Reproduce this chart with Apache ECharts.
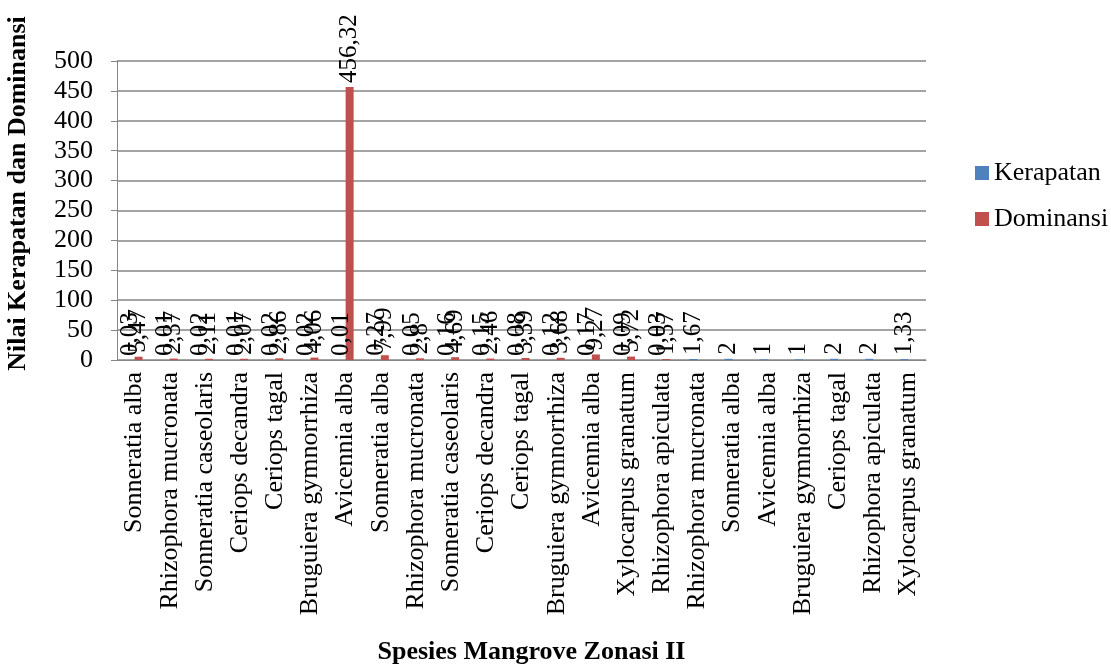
<!DOCTYPE html>
<html lang="en">
	<head>
		<meta charset="UTF-8">
		<title>Spesies Mangrove Zonasi II</title>
	</head>

	<style>
		html, body {
			margin: 0;
			padding: 0;
			background: #fff;
		}
		.chart-box {
			width: 1111px;
			height: 665px;
		}
	</style>

	<body>
		<div id='echarts' class="chart-box"></div>
	</body>

	<script type="text/javascript" src="https://cdn.jsdelivr.net/npm/echarts@6.0.0/dist/echarts.min.js"></script>
	<script>
		var categories = ['Sonneratia alba', 'Rhizophora mucronata', 'Sonneratia caseolaris', 'Ceriops decandra',
			'Ceriops tagal', 'Bruguiera gymnorrhiza', 'Avicennia alba',
			'Sonneratia alba', 'Rhizophora mucronata', 'Sonneratia caseolaris', 'Ceriops decandra',
			'Ceriops tagal', 'Bruguiera gymnorrhiza', 'Avicennia alba', 'Xylocarpus granatum', 'Rhizophora apiculata',
			'Rhizophora mucronata', 'Sonneratia alba', 'Avicennia alba', 'Bruguiera gymnorrhiza',
			'Ceriops tagal', 'Rhizophora apiculata', 'Xylocarpus granatum'
		]
		var kerapatan = [0.03, 0.01, 0.02, 0.01, 0.02, 0.02, 0.01,
			0.27, 0.05, 0.16, 0.15, 0.08, 0.12, 0.17, 0.09, 0.03,
			1.67, 2, 1, 1, 2, 2, 1.33
		]
		var dominansi = [5.47, 2.37, 2.11, 2.07, 2.86, 4.06, 456.32,
			7.99, 2.8, 4.69, 2.46, 3.39, 3.68, 9.27, 5.72, 1.57,
			null, null, null, null, null, null, null
		]
		var yTicks = [0, 50, 100, 150, 200, 250, 300, 350, 400, 450, 500]

		var fontFamily = "'Times New Roman', 'Liberation Serif', serif"
		var gridColor = '#868686'

		// angka pakai koma desimal
		function fmt(p) {
			if (p.value === null || p.value === undefined) return ''
			return String(p.value).replace('.', ',')
		}

		function barLabel() {
			return {
				show: true,
				position: 'top',
				rotate: 90,
				align: 'left',
				verticalAlign: 'middle',
				distance: 4,
				color: '#000',
				fontFamily: fontFamily,
				fontSize: 25,
				formatter: fmt
			}
		}

		var myChart = echarts.init(document.getElementById('echarts'))
		var option = {
			animation: false,
			textStyle: { fontFamily: fontFamily },
			legend: {
				orient: 'vertical',
				left: 970,
				top: 155,
				itemWidth: 14,
				itemHeight: 14,
				itemGap: 20,
				icon: 'rect',
				textStyle: {
					color: '#000',
					fontFamily: fontFamily,
					fontSize: 26
				},
				data: ['Kerapatan', 'Dominansi']
			},
			grid: {
				left: 117,
				right: 185,
				top: 61,
				bottom: 305,
				outerBoundsMode: 'none'
			},
			xAxis: {
				type: 'category',
				data: categories,
				name: 'Spesies Mangrove Zonasi II',
				nameLocation: 'middle',
				nameGap: 279,
				nameTextStyle: {
					color: '#000',
					fontFamily: fontFamily,
					fontSize: 26,
					fontWeight: 'bold',
					padding: [0, 0, 0, 20]
				},
				axisLine: { lineStyle: { color: gridColor } },
				axisTick: { length: 7, lineStyle: { color: gridColor } },
				axisLabel: {
					interval: 0,
					rotate: 90,
					margin: 12,
					color: '#000',
					fontFamily: fontFamily,
					fontSize: 26
				}
			},
			yAxis: {
				type: 'value',
				min: yTicks[0],
				max: yTicks[yTicks.length - 1],
				interval: 50,
				name: 'Nilai Kerapatan dan Dominansi',
				nameLocation: 'middle',
				nameGap: 86,
				nameTextStyle: {
					color: '#000',
					fontFamily: fontFamily,
					fontSize: 26,
					fontWeight: 'bold',
					padding: [0, 0, 0, 34]
				},
				axisLine: { show: true, lineStyle: { color: gridColor } },
				axisTick: { show: true, length: 6, lineStyle: { color: gridColor } },
				splitLine: { lineStyle: { color: gridColor, width: 1.5 } },
				axisLabel: {
					margin: 24,
					color: '#000',
					fontFamily: fontFamily,
					fontSize: 26
				}
			},
			series: [
				{
					name: 'Kerapatan',
					type: 'bar',
					barWidth: 8,
					barGap: '0%',
					itemStyle: { color: '#4F81BD' },
					label: barLabel(),
					data: kerapatan
				},
				{
					name: 'Dominansi',
					type: 'bar',
					barWidth: 8,
					barGap: '0%',
					itemStyle: { color: '#C0504D' },
					label: barLabel(),
					data: dominansi
				}
			]
		}

		myChart.setOption(option, true)
	</script>
</html>
